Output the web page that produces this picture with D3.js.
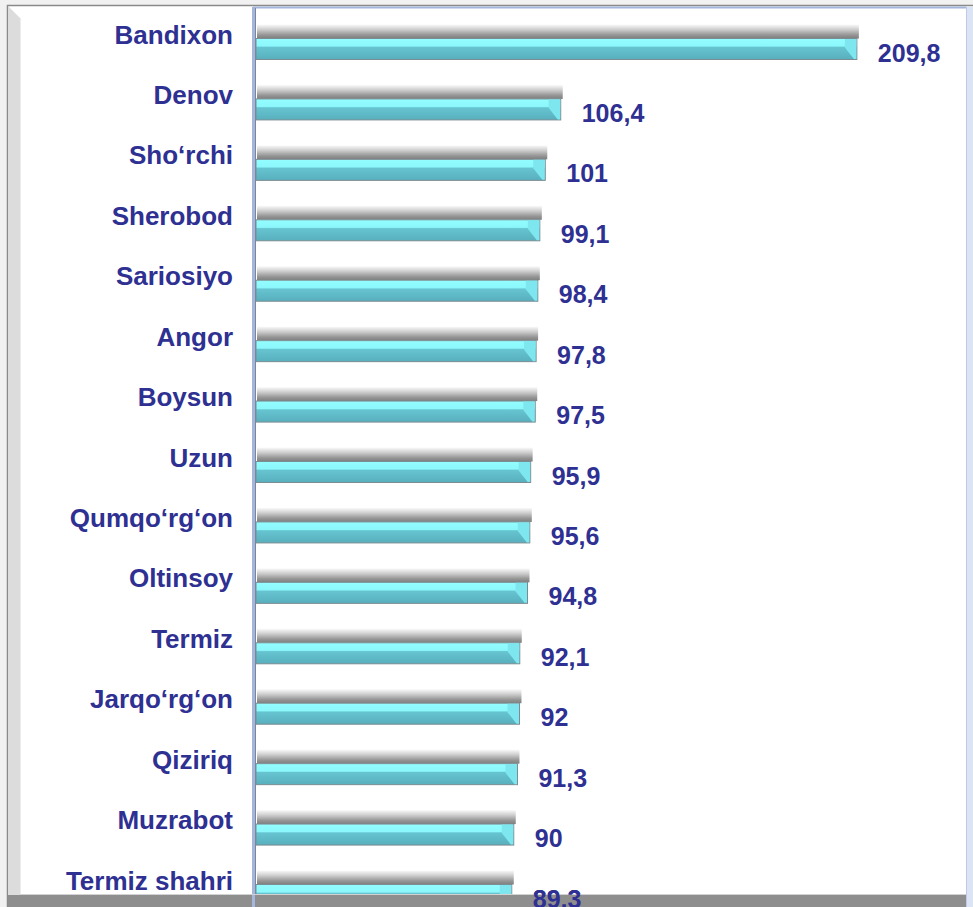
<!DOCTYPE html>
<html>
<head>
<meta charset="utf-8">
<script src="https://cdn.jsdelivr.net/npm/d3@7"></script>
<style>
  html, body { margin: 0; padding: 0; background: #f1f1f1; }
  svg { display: block; }
  text { font-family: "Liberation Sans", Arial, sans-serif; font-weight: bold; fill: #2e3092; }
</style>
</head>
<body>
<svg id="chart" width="973" height="907"></svg>
<script>
  // district names, top to bottom
  var districts = ["Bandixon", "Denov", "Sho\u2018rchi", "Sherobod", "Sariosiyo", "Angor", "Boysun",
    "Uzun", "Qumqo\u2018rg\u2018on", "Oltinsoy", "Termiz", "Jarqo\u2018rg\u2018on", "Qiziriq", "Muzrabot", "Termiz shahri"];
  var values = [209.8, 106.4, 101, 99.1, 98.4, 97.8, 97.5, 95.9, 95.6, 94.8, 92.1, 92, 91.3, 90, 89.3];
  var valueLabels = ["209,8", "106,4", "101", "99,1", "98,4", "97,8", "97,5", "95,9", "95,6", "94,8", "92,1", "92", "91,3", "90", "89,3"];

  var svg = d3.select("#chart"),
    width = +svg.attr("width"),
    height = +svg.attr("height");

  var x = d3.scaleLinear()
      .domain([0, 250])
      .range([256, 972]);

  var y = d3.scalePoint()
      .domain(districts)
      .range([48.5, 894.5]);

  var defs = svg.append("defs");

  var barGrad = defs.append("linearGradient")
      .attr("id", "barGrad")
      .attr("x1", 0).attr("y1", 0).attr("x2", 0).attr("y2", 1);
  barGrad.append("stop").attr("offset", "0%").attr("stop-color", "#93fdff");
  barGrad.append("stop").attr("offset", "36%").attr("stop-color", "#8cf8fc");
  barGrad.append("stop").attr("offset", "42%").attr("stop-color", "#66c4d0");
  barGrad.append("stop").attr("offset", "100%").attr("stop-color", "#58afbd");

  var shadowGrad = defs.append("linearGradient")
      .attr("id", "shadowGrad")
      .attr("x1", 0).attr("y1", 0).attr("x2", 0).attr("y2", 1);
  shadowGrad.append("stop").attr("offset", "0%").attr("stop-color", "#fafafa");
  shadowGrad.append("stop").attr("offset", "35%").attr("stop-color", "#cfcfcf");
  shadowGrad.append("stop").attr("offset", "75%").attr("stop-color", "#959595");
  shadowGrad.append("stop").attr("offset", "100%").attr("stop-color", "#7e7e7e");

  // frame
  svg.append("rect")
      .attr("x", 7).attr("y", 5)
      .attr("width", width - 7).attr("height", height - 5)
      .attr("fill", "#fff");
  svg.append("path")
      .attr("d", "M7.5,907V5.5H973")
      .attr("fill", "none")
      .attr("stroke", "#8a8a8a")
      .attr("stroke-width", 1.5);

  // left side wall
  svg.append("path")
      .attr("d", "M8,6L20,18L20,895L8,907Z")
      .attr("fill", "#dcdcdc");
  svg.append("line")
      .attr("x1", 20.5).attr("x2", 20.5).attr("y1", 18).attr("y2", 895)
      .attr("stroke", "#ececec");

  // back wall borders
  svg.append("rect")
      .attr("x", 966).attr("y", 7)
      .attr("width", 7).attr("height", 900)
      .attr("fill", "#dbe4f5");
  svg.append("line")
      .attr("x1", 966.5).attr("x2", 966.5).attr("y1", 7).attr("y2", 907)
      .attr("stroke", "#bccae6");
  svg.append("line")
      .attr("x1", 253).attr("x2", 966).attr("y1", 7.5).attr("y2", 7.5)
      .attr("stroke", "#a4b6dc").attr("stroke-width", 2);
  svg.append("line")
      .attr("x1", 253.5).attr("x2", 253.5).attr("y1", 7).attr("y2", 907)
      .attr("stroke", "#a4b6dc").attr("stroke-width", 3);
  svg.append("line")
      .attr("x1", 255.5).attr("x2", 255.5).attr("y1", 8).attr("y2", 907)
      .attr("stroke", "#7d8798").attr("stroke-width", 1);

  var rows = svg.append("g")
    .selectAll("g")
    .data(districts)
    .enter().append("g")
      .attr("transform", function(d) { return "translate(0," + y(d) + ")"; });

  // shadow on top of each bar
  rows.append("rect")
      .attr("x", x(0) + 1)
      .attr("y", -24)
      .attr("width", function(d, i) { return x(values[i]) - x(0) + 1; })
      .attr("height", 14)
      .attr("fill", "url(#shadowGrad)");

  rows.append("rect")
      .attr("x", x(0))
      .attr("y", -10)
      .attr("width", function(d, i) { return x(values[i]) - x(0); })
      .attr("height", 21)
      .attr("fill", "url(#barGrad)")
      .attr("stroke", "#7b8c92")
      .attr("stroke-width", 1);

  // bevelled end cap
  rows.append("path")
      .attr("d", function(d, i) {
        var e = x(values[i]);
        return "M" + (e - 12) + ",-9.5L" + (e - 0.5) + ",-9.5L" + (e - 0.5) + ",10.5L" + (e - 3) + ",10.5L" + (e - 12) + ",-1Z";
      })
      .attr("fill", "#7de6ee");

  rows.append("text")
      .attr("x", 233)
      .attr("y", -5)
      .attr("text-anchor", "end")
      .attr("font-size", 26)
      .text(function(d) { return d; });

  rows.append("text")
      .attr("x", function(d, i) { return x(values[i]) + 21; })
      .attr("y", 13)
      .attr("text-anchor", "start")
      .attr("font-size", 25)
      .text(function(d, i) { return valueLabels[i]; });

  // floor
  svg.append("rect")
      .attr("x", 8).attr("y", 895)
      .attr("width", 958).attr("height", 12)
      .attr("fill", "#8e8e8e");
  svg.append("line")
      .attr("x1", 20).attr("x2", 966).attr("y1", 894.5).attr("y2", 894.5)
      .attr("stroke", "#d2d2d2");
  svg.append("line")
      .attr("x1", 253.5).attr("x2", 253.5).attr("y1", 895).attr("y2", 907)
      .attr("stroke", "#a4b6dc").attr("stroke-width", 3);

  // value text of last row sits over the floor
  svg.append("text")
      .attr("x", x(values[values.length - 1]) + 21)
      .attr("y", y(districts[districts.length - 1]) + 13)
      .attr("font-size", 25)
      .text(valueLabels[valueLabels.length - 1]);
</script>
</body>
</html>
